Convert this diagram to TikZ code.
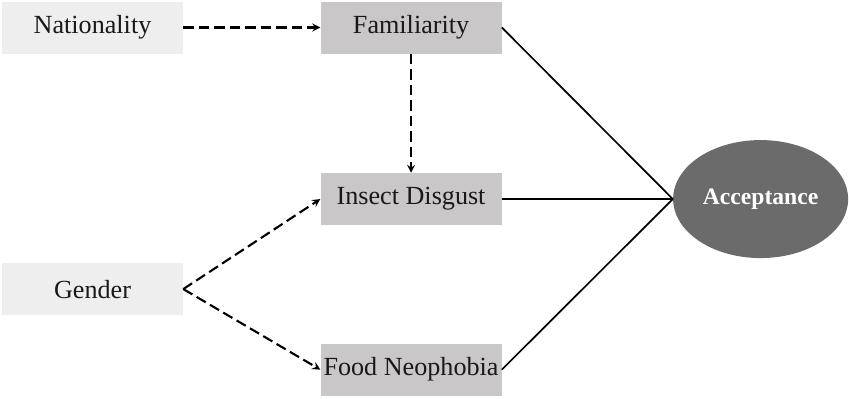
\documentclass[tikz,border=0pt]{standalone}
\usepackage{fontspec}
\setmainfont{Liberation Serif}
\usetikzlibrary{positioning,shapes.geometric}
\definecolor{outerfill}{HTML}{EFEEEE}
\definecolor{innerfill}{HTML}{C9C7C7}
\definecolor{accfill}{HTML}{6B6B6B}

\begin{document}
\begin{tikzpicture}[>=stealth, every node/.style={inner sep=2pt},
                    varbox/.style={minimum width=4.525cm, minimum height=1.3cm, font=\fontsize{18.6}{22}\selectfont, text=black!90},
                    exobox/.style={varbox, fill=outerfill},
                    medbox/.style={varbox, fill=innerfill},
                    dasharrow/.style={->, line width=1.5pt, dash pattern=on 7.5pt off 3.5pt},
                    pathline/.style={line width=1.2pt}]
  \useasboundingbox (0,0) rectangle (21.225,-9.95);
  \node (nat) [exobox] at (2.3125,-0.6875) {Nationality};
  \node (fam) [medbox, right=3.425cm of nat] {Familiarity};
  \node (dis) [medbox, below=2.975cm of fam] {Insect Disgust};
  \node (neo) [medbox, below=2.95cm of dis] {Food Neophobia};
  \node (gen) [exobox, below=5.225cm of nat] {Gender};
  \node (acc) [ellipse, fill=accfill, inner sep=0pt, minimum width=4.375cm, minimum height=2.95cm,
               text=white, font=\fontsize{16.8}{20}\selectfont\bfseries, right=4.275cm of dis] {Acceptance};
  \draw[dasharrow] (nat) -- (fam);
  \draw[dasharrow] (fam) -- (dis);
  \draw[dasharrow] (gen.east) -- (dis.west);
  \draw[dasharrow] (gen.east) -- (neo.west);
  \draw[pathline] (fam.east) -- (acc.west);
  \draw[pathline] (dis.east) -- (acc.west);
  \draw[pathline] (neo.east) -- (acc.west);
\end{tikzpicture}
\end{document}
